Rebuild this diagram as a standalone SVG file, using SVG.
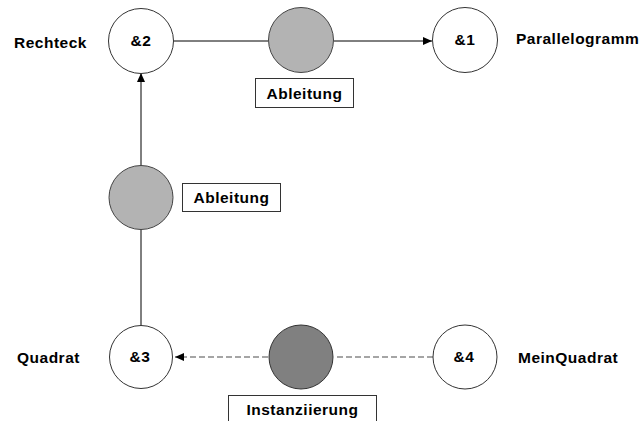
<svg xmlns="http://www.w3.org/2000/svg" width="644" height="421" viewBox="0 0 644 421">
<style>
text{font-family:"Liberation Sans",Arial,sans-serif;font-weight:bold;font-size:15.5px;fill:#000;letter-spacing:0.5px}
.c{text-anchor:middle}
.node{fill:#fff;stroke:#333;stroke-width:1}
.lg{fill:#b3b3b3;stroke:#444;stroke-width:1}
.dg{fill:#808080;stroke:#333;stroke-width:1}
.box{fill:#fff;stroke:#333;stroke-width:1}
.solid{stroke:#000;stroke-width:1;fill:none}
.dash{stroke:#888;stroke-width:1.3;stroke-dasharray:6,3;fill:none}
</style>
<defs>
<marker id="ah" markerWidth="9" markerHeight="8" refX="9" refY="4" orient="auto" markerUnits="userSpaceOnUse">
<path d="M0,0 L9,4 L0,8 Z" fill="#000"/>
</marker>
</defs>
<rect width="644" height="421" fill="#fff"/>
<g id="connectors">
<line class="solid" x1="174" y1="41" x2="268" y2="41"/>
<line class="solid" x1="334" y1="41" x2="432" y2="41" marker-end="url(#ah)"/>
<line class="solid" x1="141" y1="326" x2="141" y2="229"/>
<line class="solid" x1="141" y1="166" x2="141" y2="73" marker-end="url(#ah)"/>
<line class="dash" x1="433" y1="357" x2="334" y2="357"/>
<line class="dash" x1="268" y1="357" x2="175" y2="357" marker-end="url(#ah)"/>
</g>
<g id="n2">
<circle class="node" cx="141" cy="41" r="32.5"/>
<text class="c" x="141" y="46">&amp;2</text>
<text x="14" y="48">Rechteck</text>
</g>
<g id="n1">
<circle class="node" cx="465" cy="40" r="32.5"/>
<text class="c" x="465" y="45">&amp;1</text>
<text x="516" y="44">Parallelogramm</text>
</g>
<g id="n3">
<circle class="node" cx="141" cy="357" r="31.5"/>
<text class="c" x="140" y="362">&amp;3</text>
<text x="17" y="363">Quadrat</text>
</g>
<g id="n4">
<circle class="node" cx="465" cy="357" r="32"/>
<text class="c" x="464" y="362">&amp;4</text>
<text x="518" y="363">MeinQuadrat</text>
</g>
<g id="ableitung1">
<circle class="lg" cx="301" cy="40" r="32.5"/>
<rect class="box" x="255.5" y="78.5" width="98" height="29"/>
<text class="c" x="304.5" y="99">Ableitung</text>
</g>
<g id="ableitung2">
<circle class="lg" cx="141" cy="197.5" r="32"/>
<rect class="box" x="182.5" y="183.5" width="98" height="28"/>
<text class="c" x="231.5" y="203">Ableitung</text>
</g>
<g id="instanziierung">
<circle class="dg" cx="301" cy="357" r="32"/>
<rect class="box" x="228.5" y="395.5" width="148" height="40"/>
<text class="c" x="302.5" y="415">Instanziierung</text>
</g>
</svg>
